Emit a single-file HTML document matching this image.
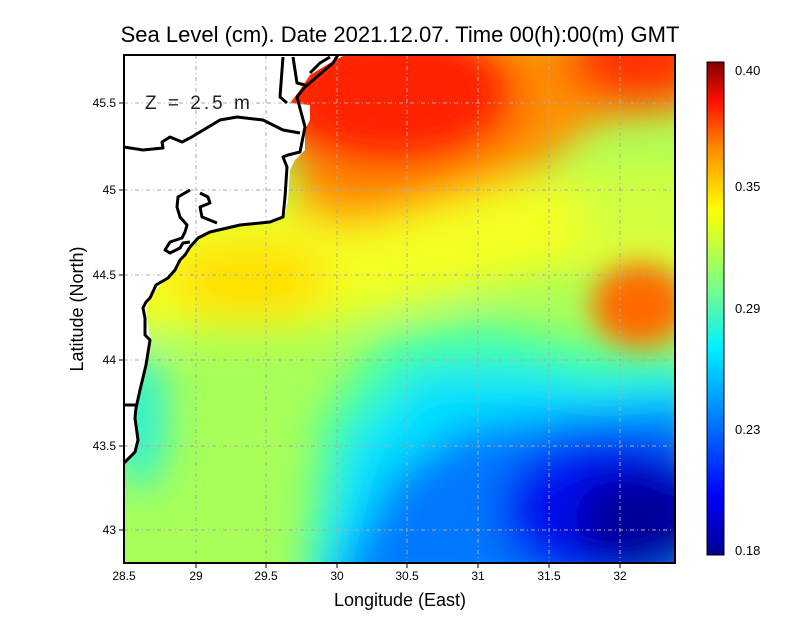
<!DOCTYPE html><html><head><style>body{margin:0;background:#fff}svg{display:block}text{font-family:"Liberation Sans",sans-serif}</style></head><body>
<svg width="800" height="618" xmlns="http://www.w3.org/2000/svg">
<defs>
<clipPath id="c"><rect x="124" y="55" width="551" height="508"/></clipPath>
<filter id="b" x="-30%" y="-30%" width="160%" height="160%"><feGaussianBlur stdDeviation="20"/></filter>
<filter id="b2" x="-30%" y="-30%" width="160%" height="160%"><feGaussianBlur stdDeviation="14"/></filter>
<linearGradient id="cb" x1="0" y1="1" x2="0" y2="0">
<stop offset="0" stop-color="#00008f"/><stop offset="0.12" stop-color="#0000ff"/><stop offset="0.3" stop-color="#0090ff"/><stop offset="0.42" stop-color="#00f0ff"/><stop offset="0.55" stop-color="#80ff80"/><stop offset="0.7" stop-color="#ffff00"/><stop offset="0.82" stop-color="#ff9000"/><stop offset="0.92" stop-color="#ff1000"/><stop offset="1" stop-color="#800000"/></linearGradient>
</defs>
<g clip-path="url(#c)">
<rect x="124" y="55" width="551" height="508" fill="#a8ff58"/>
<g filter="url(#b)">
<path d="M60,230 L300,200 L420,190 L700,170 L700,270 L560,270 L420,300 L300,330 L60,330 Z" fill="#f4ff20"/>
<path d="M280,30 L700,30 L700,110 L600,120 L540,170 L450,200 L360,225 L300,215 Z" fill="#ff9000"/>
<path d="M580,160 L700,160 L700,250 L580,250 Z" fill="#d0ff40"/>
<ellipse cx="390" cy="95" rx="130" ry="75" fill="#ff2800"/>
<ellipse cx="640" cy="60" rx="75" ry="45" fill="#ff3000"/>
<ellipse cx="250" cy="280" rx="80" ry="40" fill="#ffe000"/>
<path d="M300,600 L320,420 L380,340 L480,320 L560,340 L700,360 L700,600 Z" fill="#40ffb0"/>
<path d="M310,600 L350,440 L420,370 L520,370 L600,385 L700,375 L700,600 Z" fill="#00e0ff"/>
<path d="M330,600 L390,480 L460,430 L560,415 L700,405 L700,600 Z" fill="#0078ff"/>
<ellipse cx="610" cy="510" rx="110" ry="75" fill="#0010f0"/>
<ellipse cx="640" cy="520" rx="65" ry="50" fill="#000098"/>
<ellipse cx="140" cy="420" rx="25" ry="70" fill="#20f0e0"/>
</g>
<g filter="url(#b2)">
<ellipse cx="640" cy="305" rx="48" ry="42" fill="#ff6a00"/>
<ellipse cx="400" cy="90" rx="85" ry="40" fill="#ff2000"/>
</g>
<path d="M124,55 L345,55 L330,63 L310,75 L300,90 L290,103 L310,105 L310,120 L305,130 L305,150 L295,160 L290,170 L288,200 L285,215 L270,222 L240,225 L210,232 L198,238 L185,255 L175,270 L160,285 L150,298 L146,310 L150,340 L145,365 L140,390 L136,410 L138,440 L135,452 L124,465 Z" fill="#fff"/>
<g stroke="#aaa" stroke-width="1" stroke-dasharray="4,3,1,3" fill="none">
<path d="M196,55V563M266,55V563M337,55V563M407,55V563M478,55V563M549,55V563M620,55V563"/>
<path d="M124,103H675M124,190H675M124,275H675M124,360H675M124,446H675M124,530H675"/>
</g>
<g stroke="#000" stroke-width="3" fill="none" stroke-linejoin="round">
<path d="M124,463 L135,452 L138,440 L135,418 L136,408 L140,390 L146,365 L150,340 L145,335 L145,318 L143,308 L146,302 L150,298 L156,285 L168,278 L175,270 L180,260 L185,255 L190,247 L198,238 L210,232 L240,225 L270,222 L283,217 L285,197 L287,167 L283,157 L288,155 L300,152 L305,127 L297,97 L305,87 L333,63 L338,55"/>
<path d="M124,147 L143,150 L163,148 L162,142 L170,137 L182,142 L190,138 L220,120 L237,117 L263,120 L283,130 L300,133"/>
<path d="M283,57 L280,97 L287,103 M293,57 L297,83 L305,85 M310,73 L320,63 L330,57"/>
<path d="M190,190 L178,197 L177,207 L180,217 L187,225 L185,232 L182,238 L170,242 L165,250 L170,253 L180,248 L183,243 L190,242 M200,193 L208,197 L210,203 L200,207 L202,217 L217,223"/>
<path d="M124,405 L136,405"/>
</g>
</g>
<rect x="124" y="55" width="551" height="508" fill="none" stroke="#000" stroke-width="2"/>
<text x="145" y="109" font-size="19" fill="#222" letter-spacing="3">Z = 2.5 m</text>
<g stroke="#000" stroke-width="1"><path d="M196,563v5M266,563v5M337,563v5M407,563v5M478,563v5M549,563v5M620,563v5M124,103h-5M124,190h-5M124,275h-5M124,360h-5M124,446h-5M124,530h-5"/></g>
<g font-size="12" text-anchor="middle"><text x="124" y="580">28.5</text><text x="196" y="580">29</text><text x="266" y="580">29.5</text><text x="337" y="580">30</text><text x="407" y="580">30.5</text><text x="478" y="580">31</text><text x="549" y="580">31.5</text><text x="620" y="580">32</text></g>
<g font-size="12" text-anchor="end"><text x="116" y="107">45.5</text><text x="116" y="194">45</text><text x="116" y="279">44.5</text><text x="116" y="364">44</text><text x="116" y="450">43.5</text><text x="116" y="534">43</text></g>
<text x="400" y="606" font-size="18" text-anchor="middle">Longitude (East)</text>
<text transform="translate(83,309) rotate(-90)" font-size="18" text-anchor="middle">Latitude (North)</text>
<text x="400" y="42" font-size="22" text-anchor="middle">Sea Level (cm). Date 2021.12.07. Time 00(h):00(m) GMT</text>
<rect x="707" y="62" width="17" height="493" fill="url(#cb)" stroke="#000"/>
<g font-size="13"><text x="735" y="75">0.40</text><text x="735" y="191">0.35</text><text x="735" y="313">0.29</text><text x="735" y="434">0.23</text><text x="735" y="555">0.18</text></g>
</svg>
</body></html>
